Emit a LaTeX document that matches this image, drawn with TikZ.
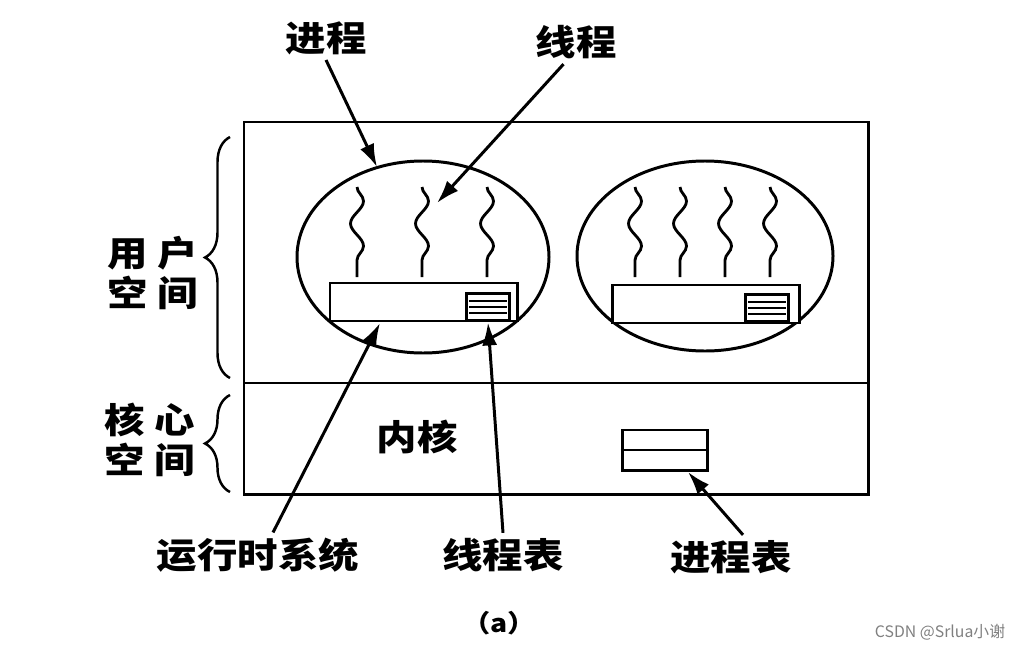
\documentclass[tikz,border=0pt]{standalone}
\usepackage{fontspec}
\newfontfamily\cjk{Noto Sans CJK SC}[FakeStretch=1.15]
\newfontfamily\wmfont{Noto Sans CJK SC}
\usetikzlibrary{positioning, arrows.meta, shapes.geometric, decorations.pathmorphing, decorations.pathreplacing}

\begin{document}
\begin{tikzpicture}[x=0.2mm, y=-0.2mm]
	\tikzset{
		heavy/.style={line width=1.7pt},
		lbl/.style={font=\cjk\bfseries\fontsize{20}{23}\selectfont, align=center, inner sep=0pt},
		pointer/.style={line width=1.7pt, -{Latex[length=4.6mm, width=3mm]}},
		thread/.style={line width=1.6pt, decorate, decoration={snake, segment length=9mm, amplitude=1.3mm}},
		brace/.style={line width=1.4pt, decorate, decoration={brace, amplitude=5mm}},
		proc/.style={ellipse, draw, heavy, inner sep=0pt},
		rts/.style={rectangle, draw, heavy, minimum width=37.4mm, minimum height=7.6mm, inner sep=0pt},
		ttab/.style={rectangle, draw, line width=2.2pt, minimum width=8.6mm, minimum height=5.4mm, inner sep=0pt}
	}
	\useasboundingbox (0,0) rectangle (1022,649);
	
	% 用户空间 / 核心空间
	\draw[heavy] (244,122) rectangle (868,494);
	\draw[heavy] (244,383) -- (868,383);
	\draw[brace] (230,378) -- (230,137);
	\draw[brace] (230,492) -- (230,395);
	\node[lbl] (lblUser) at (153,273) {用\hspace{2mm}户\\空\hspace{2mm}间};
	\node[lbl] (lblCore) at (150,440) {核\hspace{2mm}心\\空\hspace{2mm}间};
	\node[lbl] (lblKernel) at (417,437) {内核};
	
	% 两个进程
	\node[proc, minimum width=50.4mm, minimum height=38.4mm] (procA) at (423,257) {};
	\node[proc, minimum width=51.2mm, minimum height=38mm] (procB) at (705,256) {};
	\foreach \x in {357,422,487} {
		\draw[thread] (\x,187) -- (\x,277);
	}
	\foreach \x in {635,680,725,770} {
		\draw[thread] (\x,187) -- (\x,277);
	}
	
	% 运行时系统 + 线程表
	\node[rts, fill=white] (rtsA) at (423.5,302) {};
	\node[rts, fill=white] (rtsB) at (705.5,304) {};
	\node[ttab] (ttabA) at (488,307) {};
	\node[ttab] (ttabB) at (767,308) {};
	\foreach \cx/\cy in {488/307, 767/308} {
		\foreach \dy in {-6,0,6} {
			\draw[line width=1.2pt] (\cx-19,\cy+\dy) -- (\cx+19,\cy+\dy);
		}
	}
	
	% 进程表
	\node[rectangle, draw, heavy, minimum width=17mm, minimum height=8mm] (ptab) at (664.5,450) {};
	\draw[heavy] (ptab.west) -- (ptab.east);
	
	% labels
	\node[lbl] (lblProc) at (326,38) {进程};
	\node[lbl] (lblThread) at (576,42) {线程};
	\node[lbl] (lblRts) at (258,555) {运行时系统};
	\node[lbl] (lblTtab) at (503,555) {线程表};
	\node[lbl] (lblPtab) at (731,557) {进程表};
	\node[font=\cjk\bfseries\fontsize{14}{16}\selectfont, inner sep=0pt] (lblA) at (499,623) {（a）};
	\node[font=\wmfont\fontsize{9}{11}\selectfont, text=black!50, inner sep=0pt] (lblMark) at (940,632) {CSDN @Srlua小谢};
	
	% arrows
	\coordinate (procTip) at (377,167);
	\coordinate (thrTip) at (437,203);
	\coordinate (rtsTip) at (380,323);
	\coordinate (ptabTip) at (688,472);
	\draw[pointer] ([yshift=-1mm]lblProc.south) -- (procTip);
	\draw[pointer] ([xshift=-2.5mm, yshift=-1mm]lblThread.south) -- (thrTip);
	\draw[pointer] ([xshift=3mm, yshift=1mm]lblRts.north) -- (rtsTip);
	\draw[pointer] ([yshift=1mm]lblTtab.north) -- (ttabA.south);
	\draw[pointer] ([xshift=2.4mm, yshift=1mm]lblPtab.north) -- (ptabTip);
\end{tikzpicture}
\end{document}
